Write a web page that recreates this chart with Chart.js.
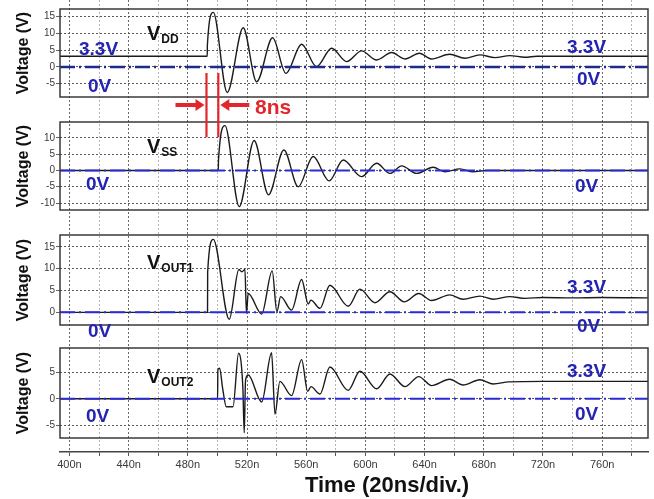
<!DOCTYPE html>
<html><head><meta charset="utf-8">
<script src="https://cdn.jsdelivr.net/npm/chart.js@4"></script>
<style>html,body{margin:0;padding:0;background:#fff;}#wrap{width:654px;height:499px;}</style>
</head><body><div id="wrap"><canvas id="c" width="654" height="499"></canvas></div>
<script>
// ---------- data ----------
const xMin = 393.6, xMax = 791;
const xTickValues = [400,420,440,460,480,500,520,540,560,580,600,620,640,660,680,700,720,740,760,780];
const vddTicks = [-5,0,5,10,15];
const vssTicks = [-10,-5,0,5,10];
const out1Ticks = [0,5,10,15];
const out2Ticks = [-5,0,5];

const vddTime = [393.6,493.1,493.2,497.2,506.6,517.4,526.5,537.3,546.3,556.9,567.0,577.2,587.3,597.4,607.6,617.7,626.7,636.5,644.7,657.0,667.2,677.4,687.5,697.6,707.8,716,791];
const vddVolt = [3.2,3.2,6.5,16.3,-7.6,11.7,-4.4,8.7,-1.9,6.8,0.1,5.6,1.6,4.8,2.1,4.3,2.4,4.1,2.4,3.8,2.6,3.6,2.8,3.4,2.9,3.2,3.2];

const vssTime = [393.6,500.6,500.7,505.1,514.7,524.8,534.5,544.9,554.6,564.7,575.5,585.0,597.4,607.6,616.6,624.5,634.6,645.8,653.7,663.9,672.8,682,791];
const vssVolt = [0,0,3,13.8,-11.1,9.2,-7.5,6.3,-5.0,4.3,-3.2,3.2,-1.9,2.2,-0.9,1.4,-0.9,1.0,-0.4,0.5,-0.4,0,0];

const out1Time = [393.6,493.3,493.4,497.2,508.0,514.5,516.5,518.6,519.6,520.8,529.9,537.0,540.2,542.7,550.1,556.9,561.4,563.2,569.3,576.0,588.4,596.3,606.4,616.6,626.2,636.1,644.7,657.0,666.0,677.4,686.4,697.6,708,720,740,760,791];
const out1Volt = [0,0,9.3,16.7,-1.6,9.8,9.3,9.8,-0.2,4.3,-0.4,9.5,0.1,3.6,0.5,7.5,1.9,2.8,0.9,6.2,1.4,5.3,2.2,4.7,2.4,4.3,2.7,4.0,3.0,3.7,3.0,3.6,3.2,3.4,3.3,3.4,3.3];

const out2Time = [393.6,500.1,500.3,501.5,503.5,506.0,510.5,514.3,517.2,518.1,519.0,520.8,529.9,536.6,538.9,542.2,550.1,556.9,561.0,563.2,569.3,576.0,588.4,596.3,607.6,616.6,626.7,636.1,644.7,657.0,666.0,677.4,686.4,697.0,720,760,791];
const out2Volt = [0,0,5.5,5.8,2.0,-1.5,-1.5,8.6,2.0,-6.4,3.5,4.5,-0.6,8.7,-2.9,3.3,0.6,7.4,1.4,2.3,0.9,6.0,1.6,5.2,1.9,4.7,2.3,4.2,2.5,3.7,2.6,3.6,2.8,3.2,3.3,3.3,3.3];

const zeroLevel = [0,0];
const delayMarks = [492.6, 500.6]; // VDD and VSS step times (8ns)

// ---------- helpers ----------
const FONT = "'Liberation Sans', Arial, sans-serif";
const pts = (t, v) => t.map((x, i) => ({x, y: v[i]}));
const zeroPts = () => [{x: xMin, y: zeroLevel[0]}, {x: xMax, y: zeroLevel[1]}];

const wave = (t, v, axis) => ({data: pts(t, v), yAxisID: axis, borderColor: '#1b1b1b', borderWidth: 1.4,
  pointRadius: 0, cubicInterpolationMode: 'monotone', fill: false, order: 2});
const zero = (axis, color, w) => ({data: zeroPts(), yAxisID: axis, borderColor: color, borderWidth: w,
  borderDash: [15, 4, 2, 4], pointRadius: 0, fill: false, order: 1});

const panelAxis = (min, max, ticks, weight) => ({
  type: 'linear', position: 'left', stack: 'v', stackWeight: weight, min, max, offset: false,
  afterBuildTicks: s => { s.ticks = ticks.map(value => ({value})); },
  afterFit: s => { s.width = 60; s.paddingTop = 0; s.paddingBottom = 0; },
  ticks: {font: {family: FONT, size: 10}, color: '#3a3a3a', padding: 1, autoSkip: false},
  grid: {color: '#5a5a5a', lineWidth: 1, tickLength: 4, tickColor: '#666'},
  border: {display: false, dash: [2, 2]},
  title: {display: true, text: 'Voltage (V)', font: {family: FONT, size: 16, weight: 'bold'}, color: '#111', padding: {top: 14.4, bottom: 0}}
});
const gapAxis = (weight) => ({
  type: 'linear', position: 'left', stack: 'v', stackWeight: weight, min: 0, max: 1,
  afterFit: s => { s.width = 60; s.paddingTop = 0; s.paddingBottom = 0; },
  ticks: {display: false}, grid: {display: false}, border: {display: false}
});

const overlay = {
  id: 'overlay',
  afterDatasetsDraw(chart) {
    const {ctx, chartArea: ca, scales} = chart;
    ctx.save();
    // panel frames
    ctx.strokeStyle = '#3a3a3a'; ctx.lineWidth = 1.5;
    ['yVdd', 'yVss', 'yOut1', 'yOut2'].forEach(id => {
      const s = scales[id];
      ctx.strokeRect(ca.left, s.top, ca.right - ca.left, s.bottom - s.top);
    });
    // blue level labels
    const blue = '#2424b4';
    ctx.fillStyle = blue; ctx.textBaseline = 'alphabetic'; ctx.textAlign = 'left';
    ctx.font = `bold 19px ${FONT}`;
    [['3.3V', 79, 55], ['3.3V', 567, 53], ['0V', 88, 92], ['0V', 577, 85],
     ['0V', 86, 190], ['0V', 575, 192],
     ['0V', 88, 337], ['3.3V', 567, 293], ['0V', 577, 332],
     ['0V', 86, 422], ['3.3V', 567, 377], ['0V', 575, 420]].forEach(([t, x, y]) => ctx.fillText(t, x, y));
    // signal names with subscripts
    ctx.fillStyle = '#111';
    [['DD', 147, 40], ['SS', 147, 153], ['OUT1', 147, 269], ['OUT2', 147, 383]].forEach(([sub, x, y]) => {
      ctx.font = `bold 20px ${FONT}`;
      ctx.fillText('V', x, y);
      const w = ctx.measureText('V').width;
      ctx.font = `bold 12px ${FONT}`;
      ctx.fillText(sub, x + w + 1, y + 3);
    });
    // 8ns delay marker
    const xs = scales.x;
    const red = '#e3262b';
    const xa = xs.getPixelForValue(delayMarks[0]), xb = xs.getPixelForValue(delayMarks[1]);
    const yTop = scales.yVdd.getPixelForValue(-1.8), yBot = scales.yVss.getPixelForValue(10.2);
    ctx.strokeStyle = red; ctx.lineWidth = 2.2;
    ctx.beginPath(); ctx.moveTo(xa, yTop); ctx.lineTo(xa, yBot); ctx.moveTo(xb, yTop); ctx.lineTo(xb, yBot); ctx.stroke();
    const ay = 105;
    ctx.fillStyle = red;
    ctx.fillRect(xa - 31, ay - 2, 22, 4);
    ctx.beginPath(); ctx.moveTo(xa - 2, ay); ctx.lineTo(xa - 11, ay - 6); ctx.lineTo(xa - 11, ay + 6); ctx.closePath(); ctx.fill();
    ctx.fillRect(xb + 10, ay - 2, 21, 4);
    ctx.beginPath(); ctx.moveTo(xb + 2, ay); ctx.lineTo(xb + 11, ay - 6); ctx.lineTo(xb + 11, ay + 6); ctx.closePath(); ctx.fill();
    ctx.font = `bold 21px ${FONT}`;
    ctx.fillText('8ns', 255, 114);
    // x-axis title
    ctx.fillStyle = '#111'; ctx.textAlign = 'center';
    ctx.font = `bold 22px ${FONT}`;
    ctx.fillText('Time (20ns/div.)', 387, 492);
    ctx.restore();
  }
};

new Chart(document.getElementById('c'), {
  type: 'line',
  data: {datasets: [
    zero('yVdd', '#1e2a8c', 2.5), zero('yVss', '#2a2ad8', 2), zero('yOut1', '#2a2ad8', 2), zero('yOut2', '#2a2ad8', 2),
    wave(vddTime, vddVolt, 'yVdd'), wave(vssTime, vssVolt, 'yVss'),
    wave(out1Time, out1Volt, 'yOut1'), wave(out2Time, out2Volt, 'yOut2')
  ]},
  options: {
    responsive: false, animation: false, devicePixelRatio: 1,
    layout: {padding: {left: 0, right: 6, top: 0, bottom: 0}},
    plugins: {legend: {display: false}, tooltip: {enabled: false}},
    scales: {
      x: {
        type: 'linear', position: 'bottom', min: xMin, max: xMax,
        afterBuildTicks: s => { s.ticks = xTickValues.map(value => ({value})); },
        afterFit: s => { s.height = 47; s.paddingLeft = 0; s.paddingRight = 0; },
        ticks: {callback: v => (v % 40 === 0 && v <= 760) ? v + 'n' : '', font: {family: FONT, size: 11}, color: '#3a3a3a',
                maxRotation: 0, autoSkip: false, padding: 2},
        grid: {color: c => (c.tick && c.tick.value % 40 === 0) ? '#6a6a6a' : '#b4b4b4', lineWidth: 1, tickLength: 4, tickColor: '#555'},
        border: {display: true, color: '#444', width: 1.5, dash: [2, 2]}
      },
      // stacked left axes are laid out from the last defined (top) to the first (bottom)
      gBot: gapAxis(14),
      yOut2: panelAxis(-7.4, 9.6, out2Ticks, 90),
      g3: gapAxis(23),
      yOut1: panelAxis(-2.9, 17.7, out1Ticks, 90),
      g2: gapAxis(25),
      yVss: panelAxis(-12.15, 14.9, vssTicks, 88),
      g1: gapAxis(25),
      yVdd: panelAxis(-8.96, 17.3, vddTicks, 88),
      gTop: gapAxis(9)
    }
  },
  plugins: [overlay]
});
</script>
</body></html>
